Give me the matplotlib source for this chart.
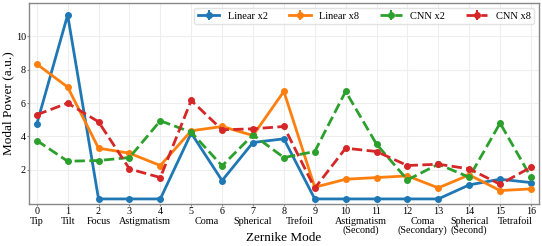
import numpy as np
import matplotlib
matplotlib.use("Agg")
import matplotlib.pyplot as plt

plt.rcParams['font.family'] = ['Liberation Serif', 'DejaVu Serif']

modes = list(range(17))
group_names = ["Tip", "Tilt", "Focus", "Astigmatism", "Coma", "Spherical", "Trefoil",
               "Astigmatism\n(Second)", "Coma\n(Secondary)", "Spherical\n(Second)", "Tetrafoil"]
group_centers = [0, 1, 2, 3.5, 5.5, 7, 8.5, 10.5, 12.5, 14, 15.5]

linear_x2 = [4.74, 11.28, 0.26, 0.26, 0.26, 4.2, 1.36, 3.64, 3.86, 0.26, 0.26, 0.26, 0.26, 0.26, 1.1, 1.44, 1.24]
linear_x8 = [8.34, 6.96, 3.3, 3.0, 2.26, 4.34, 4.6, 4.06, 6.7, 0.96, 1.44, 1.54, 1.64, 0.92, 1.7, 0.76, 0.86]
cnn_x2 = [3.76, 2.52, 2.56, 2.74, 4.94, 4.26, 2.24, 4.1, 2.74, 3.1, 6.7, 3.54, 1.4, 2.34, 1.56, 4.8, 1.56]
cnn_x8 = [5.3, 6.0, 4.88, 2.06, 1.54, 6.16, 4.4, 4.46, 4.6, 0.9, 3.3, 3.1, 2.26, 2.34, 2.06, 1.14, 2.16]

series = [("Linear x2", linear_x2, "#1f77b4", "-"),
          ("Linear x8", linear_x8, "#ff7f0e", "-"),
          ("CNN x2", cnn_x2, "#2ca02c", "--"),
          ("CNN x8", cnn_x8, "#d62728", "--")]

fig = plt.figure(figsize=(5.42, 2.46), dpi=100)
ax = fig.add_axes([0.053, 0.171, 0.9415, 0.817])

for name, vals, col, ls in series:
    ax.errorbar(modes, vals, yerr=np.zeros(len(vals)), color=col, linestyle=ls,
                linewidth=2.0, marker='o', markersize=4, label=name, elinewidth=1.5)

ax.set_xlim(-0.26, 16.26)
ax.set_ylim(-0.04, 12.0)
ax.set_yticks([2, 4, 6, 8, 10])
ax.set_xticks(modes)
ax.set_xticklabels([str(m) for m in modes], fontsize=7.3)
trans = ax.get_xaxis_transform()
for xc, nm in zip(group_centers, group_names):
    ax.text(xc, -0.064, nm, transform=trans, ha='center', va='top',
            fontsize=7.3, linespacing=0.95)
ax.tick_params(axis='y', labelsize=7.3)
ax.tick_params(axis='both', which='major', length=1.5, color='#888888', pad=0.5)
ax.grid(True, which='major', color='#eeeeee', linewidth=0.8)
ax.set_axisbelow(True)
for s in ax.spines.values():
    s.set_color('#888888')
    s.set_linewidth(1.0)

ax.set_xlabel("Zernike Mode", fontsize=9.5)
ax.xaxis.set_label_coords(0.5, -0.14)
ax.set_ylabel("Modal Power (a.u.)", fontsize=9.5)
ax.yaxis.set_label_coords(-0.029, 0.5)

leg = ax.legend(loc='upper right', ncol=4, fontsize=7.5, frameon=True, handlelength=2.1,
                handletextpad=0.8, columnspacing=2.0, borderaxespad=0.45, borderpad=0.35)
leg.get_frame().set_edgecolor('#dddddd')

fig.savefig("out.png", dpi=100)
